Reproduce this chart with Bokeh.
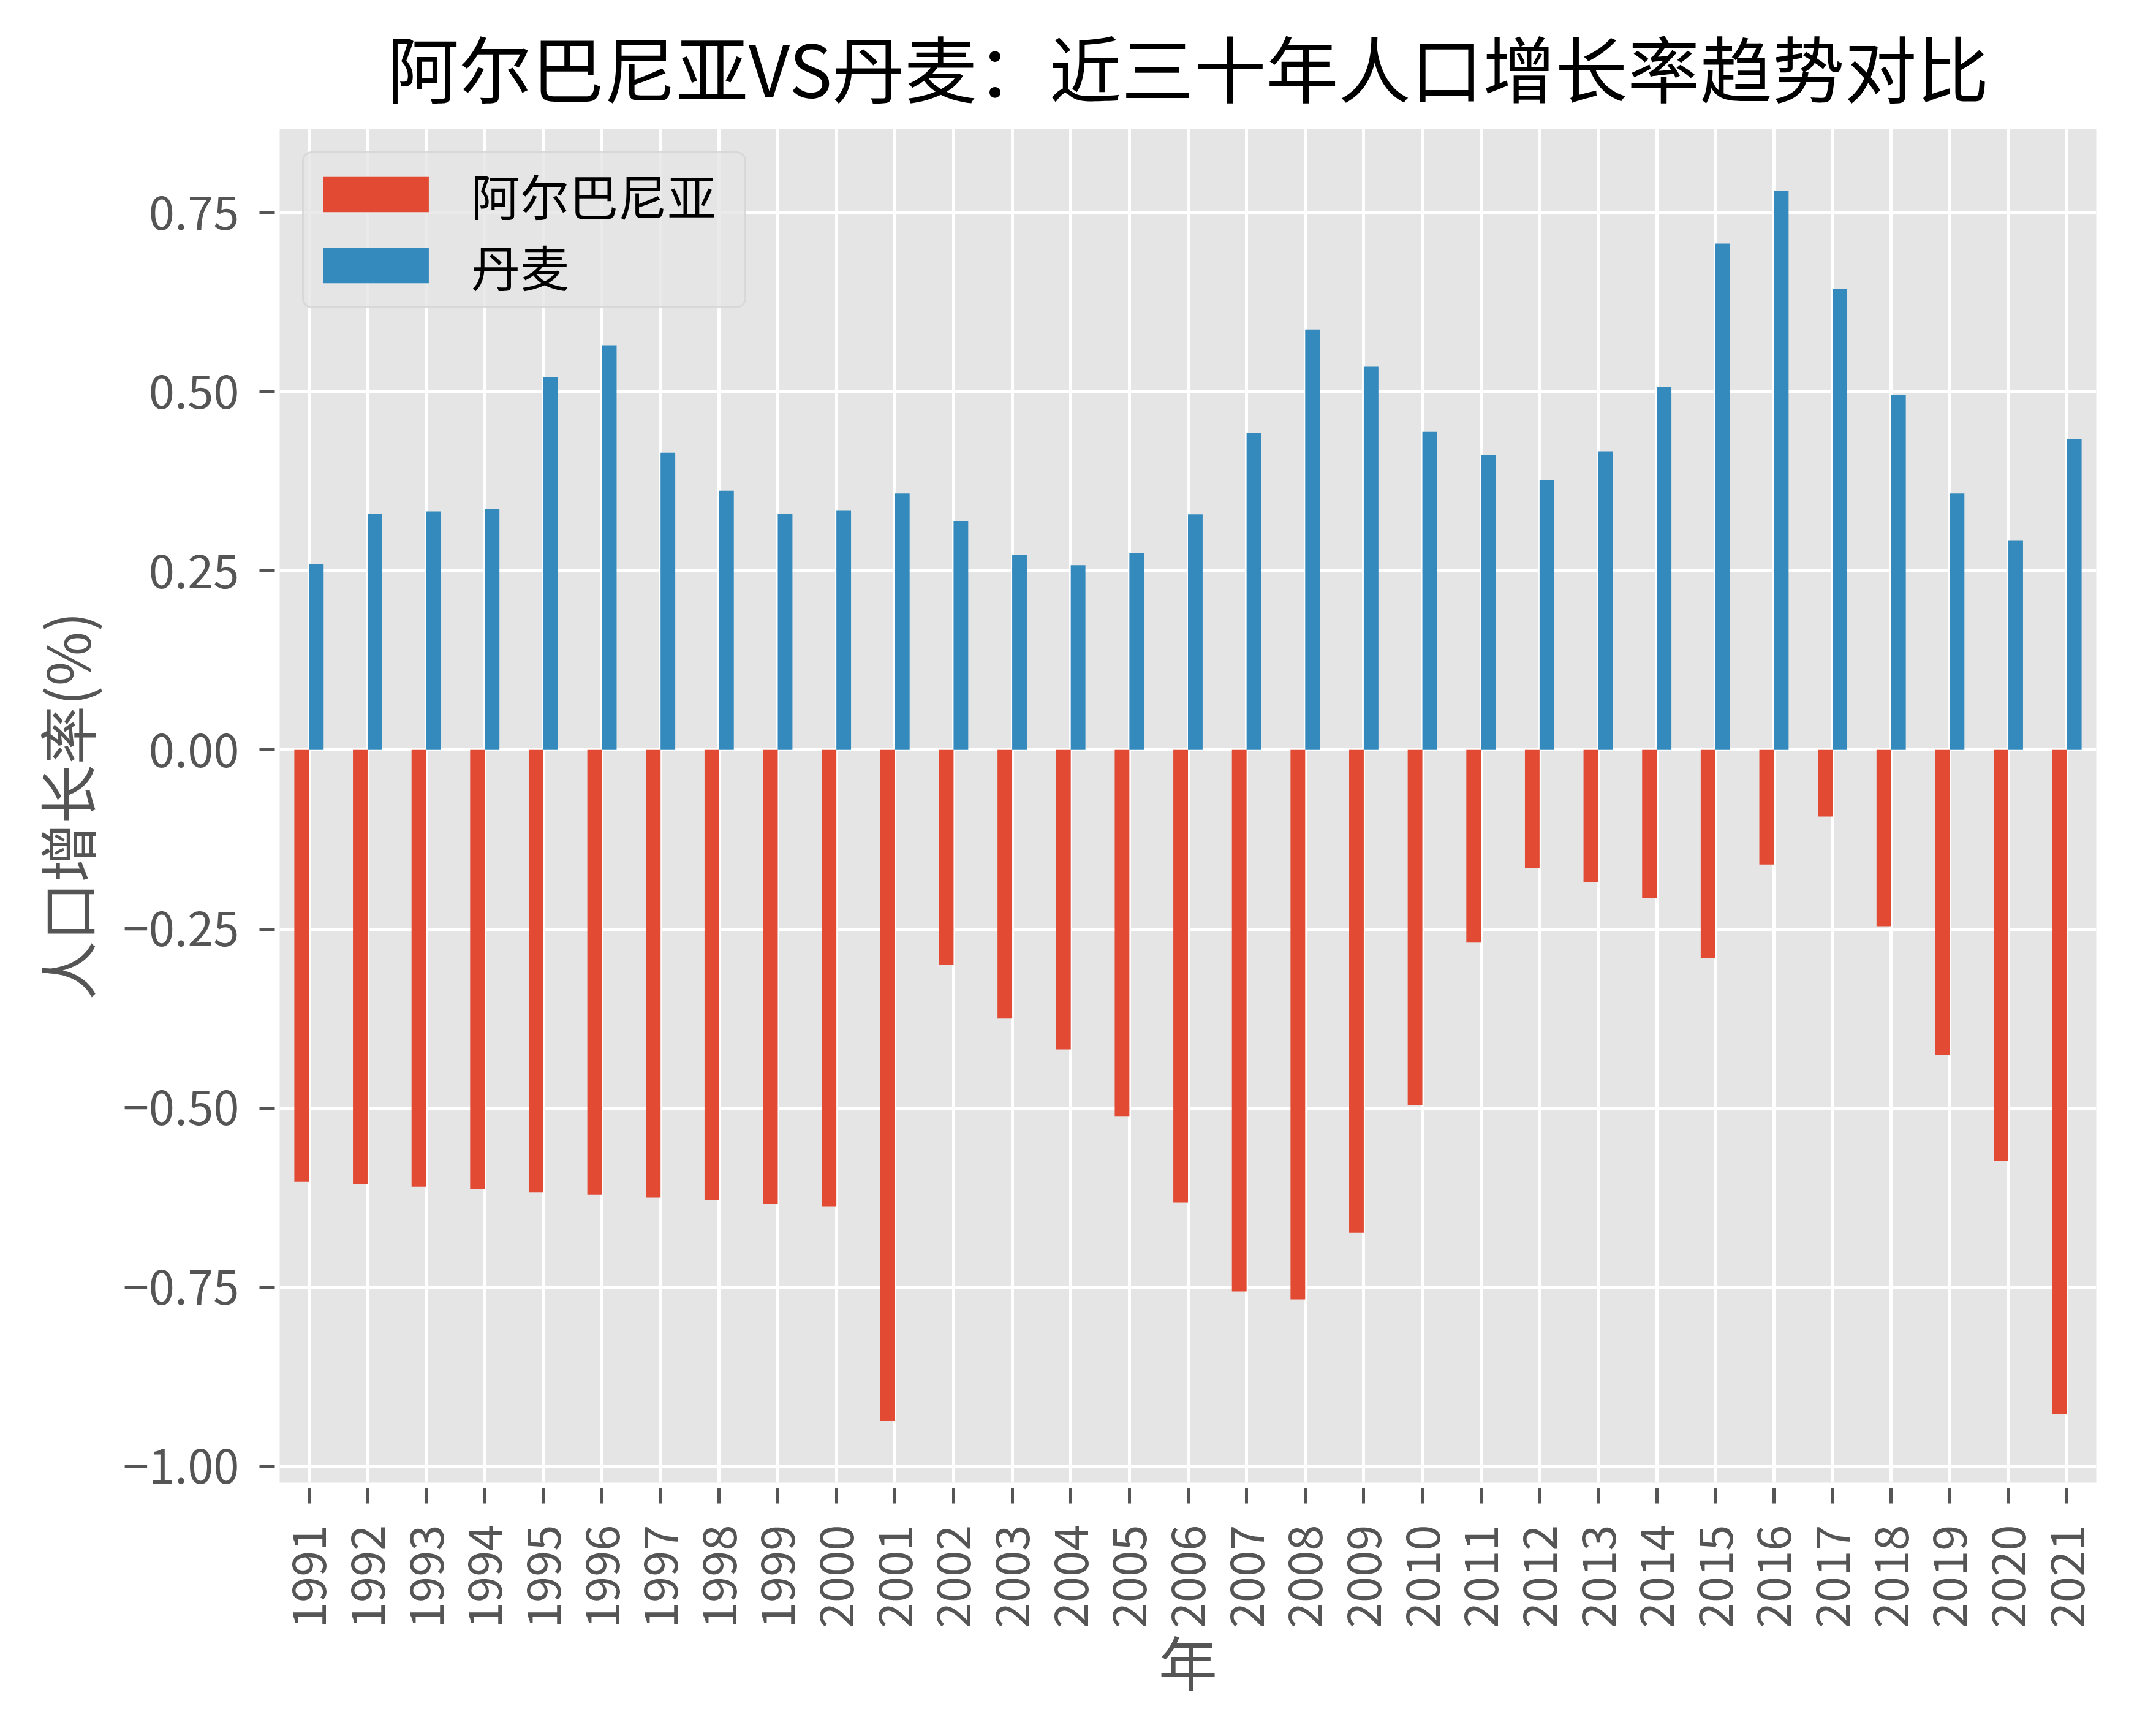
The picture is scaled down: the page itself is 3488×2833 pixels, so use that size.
import math
from bokeh.plotting import figure
from bokeh.models import ColumnDataSource, FactorRange, Range1d, FixedTicker, Legend, LegendItem
from bokeh.transform import dodge
from bokeh.embed import file_html
from bokeh.resources import INLINE

# ---------------- data ----------------
years = ["1991", "1992", "1993", "1994", "1995", "1996", "1997", "1998", "1999", "2000",
         "2001", "2002", "2003", "2004", "2005", "2006", "2007", "2008", "2009", "2010",
         "2011", "2012", "2013", "2014", "2015", "2016", "2017", "2018", "2019", "2020",
         "2021"]
albania = [-0.603, -0.606, -0.610, -0.613, -0.618, -0.621, -0.625, -0.629, -0.634, -0.637,
           -0.937, -0.300, -0.375, -0.418, -0.512, -0.632, -0.756, -0.767, -0.674, -0.496,
           -0.269, -0.165, -0.184, -0.207, -0.291, -0.160, -0.093, -0.246, -0.426, -0.574,
           -0.927]
denmark = [0.260, 0.330, 0.333, 0.337, 0.520, 0.565, 0.415, 0.362, 0.330, 0.334,
           0.358, 0.319, 0.272, 0.258, 0.275, 0.329, 0.443, 0.587, 0.535, 0.444,
           0.412, 0.377, 0.417, 0.507, 0.707, 0.781, 0.644, 0.496, 0.358, 0.292,
           0.434]
series_names = ["阿尔巴尼亚", "丹麦"]
y_ticks = [-1, -0.75, -0.5, -0.25, 0, 0.25, 0.5, 0.75]
y_tick_labels = ["−1.00", "−0.75", "−0.50", "−0.25", "0.00", "0.25", "0.50", "0.75"]
title_text = "阿尔巴尼亚VS丹麦：近三十年人口增长率趋势对比"
x_label = "年"
y_label = "人口增长率(%)"

# ---------------- style ----------------
FONT = "Noto Sans CJK SC"
RED = "#E24A33"
BLUE = "#348ABD"
BG = "#E5E5E5"
GRAY = "#555555"

all_vals = albania + denmark
span = max(all_vals) - min(all_vals)
y_lo = min(all_vals) - 0.05 * span
y_hi = max(all_vals) + 0.05 * span

source = ColumnDataSource(dict(year=years, albania=albania, denmark=denmark))

p = figure(
    x_range=FactorRange(factors=years),
    y_range=Range1d(y_lo, y_hi),
    frame_width=2965, frame_height=2209,
    min_border_left=456, min_border_right=51,
    min_border_top=210, min_border_bottom=398,
    output_backend="svg", toolbar_location=None,
)
p.background_fill_color = BG
p.border_fill_color = "white"
p.outline_line_color = None

r1 = p.vbar(x=dodge("year", -0.125, range=p.x_range), top="albania", width=0.25,
            source=source, fill_color=RED, line_color=None)
r2 = p.vbar(x=dodge("year", 0.125, range=p.x_range), top="denmark", width=0.25,
            source=source, fill_color=BLUE, line_color=None)

# title
p.title.text = title_text
p.title.text_font = FONT
p.title.text_font_size = "118px"
p.title.text_font_style = "normal"
p.title.text_color = "black"
p.title.align = "center"
p.title.standoff = 36

# grids
for g in (p.xgrid, p.ygrid):
    g.grid_line_color = "white"
    g.grid_line_width = 5
p.ygrid.ticker = FixedTicker(ticks=y_ticks)

# y axis
p.yaxis.ticker = FixedTicker(ticks=y_ticks)
p.yaxis.major_label_overrides = {t: l for t, l in zip(y_ticks, y_tick_labels)}
# x axis
p.xaxis.major_label_orientation = math.pi / 2

for ax in (p.xaxis, p.yaxis):
    ax.axis_line_color = None
    ax.major_tick_line_color = GRAY
    ax.major_tick_line_width = 5
    ax.minor_tick_line_color = None
    ax.major_label_text_font = FONT
    ax.major_label_text_font_size = "76px"
    ax.major_label_text_color = GRAY
    ax.axis_label_text_font = FONT
    ax.axis_label_text_font_size = "96px"
    ax.axis_label_text_font_style = "normal"
    ax.axis_label_text_color = GRAY

p.yaxis.major_tick_in = -8
p.yaxis.major_tick_out = 33
p.yaxis.major_label_standoff = 33
p.yaxis.axis_label = y_label
p.yaxis.axis_label_standoff = 22

p.xaxis.major_tick_in = -9
p.xaxis.major_tick_out = 34
p.xaxis.major_label_standoff = 35
p.xaxis.axis_label = x_label
p.xaxis.axis_label_standoff = -20

legend = Legend(
    items=[LegendItem(label=series_names[0], renderers=[r1]),
           LegendItem(label=series_names[1], renderers=[r2])],
    location="top_left",
    margin=37, padding=9, spacing=0,
    glyph_width=216, glyph_height=72, label_height=72, label_width=437,
    label_standoff=48,
    label_text_font=FONT, label_text_font_size="80px", label_text_color="black",
    background_fill_color=BG, background_fill_alpha=0.8,
    border_line_color="#CCCCCC", border_line_width=3,
    border_radius=16,
)
p.add_layout(legend)

open("out.html", "w").write(file_html(p, INLINE))
